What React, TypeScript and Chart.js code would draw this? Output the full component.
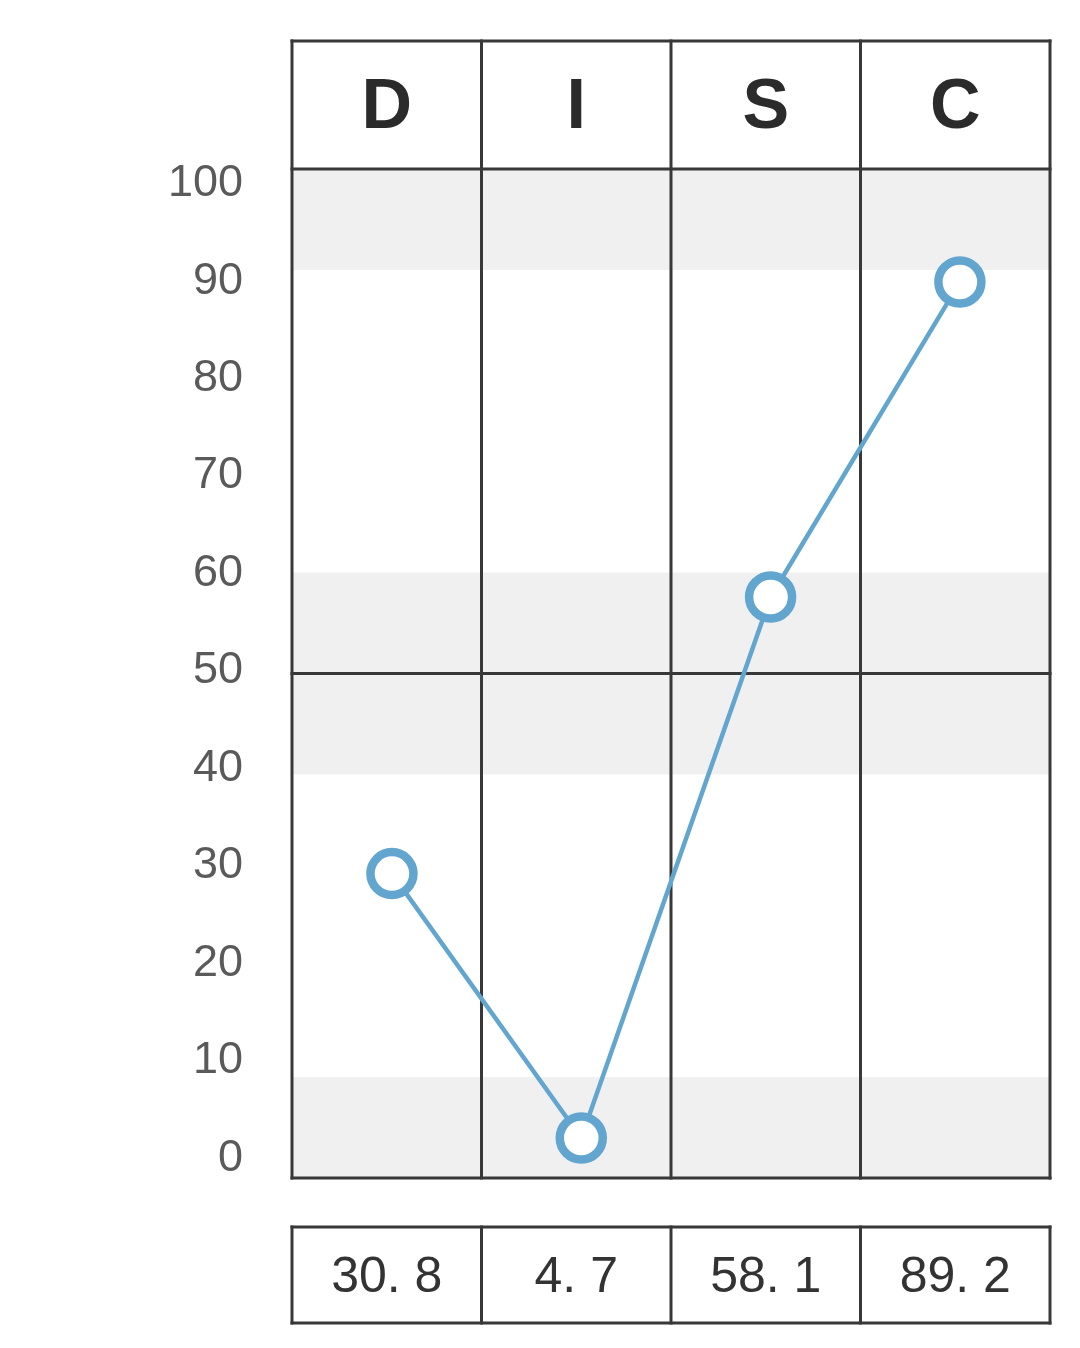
import React, { useEffect, useRef } from 'react';
import { Chart, registerables } from 'chart.js';

Chart.register(...registerables);

// ---- data ----
const categories = ['D', 'I', 'S', 'C'];
const scores = [30.8, 4.7, 58.1, 89.2];
const yTickValues = [0, 10, 20, 30, 40, 50, 60, 70, 80, 90, 100];
const shadedBands = [
  [0, 10],
  [40, 60],
  [90, 100],
];
const midlineValue = 50;

const LINE_COLOR = '#383838';
const SERIES_COLOR = '#62a5cf';
const FONT = "'Liberation Sans', Arial, Helvetica, sans-serif";

function formatScore(v: number): string {
  return v.toFixed(1).replace('.', '. ');
}

const tablePlugin = {
  id: 'discTable',
  beforeDatasetsDraw(chart: any) {
    const { ctx, chartArea } = chart;
    const { left, right, top, bottom } = chartArea;
    const xs = chart.scales.x;
    const h = bottom - top;
    const yAt = (p: number) => bottom - (h * p) / 100;

    ctx.save();
    ctx.fillStyle = '#f0f0f0';
    shadedBands.forEach(([a, b]) => {
      ctx.fillRect(left, yAt(b), right - left, yAt(a) - yAt(b));
    });

    const bounds: number[] = [left];
    for (let i = 0; i < categories.length - 1; i++) {
      bounds.push((xs.getPixelForValue(i) + xs.getPixelForValue(i + 1)) / 2);
    }
    bounds.push(right);

    const headerTop = top - 128;
    const tableTop = bottom + 49;
    const tableBottom = bottom + 145;

    ctx.strokeStyle = LINE_COLOR;
    ctx.lineWidth = 3;
    ctx.lineJoin = 'round';
    ctx.lineCap = 'square';

    const hLine = (y: number) => {
      ctx.beginPath();
      ctx.moveTo(left, y);
      ctx.lineTo(right, y);
      ctx.stroke();
    };
    const vLine = (x: number, y1: number, y2: number) => {
      ctx.beginPath();
      ctx.moveTo(x, y1);
      ctx.lineTo(x, y2);
      ctx.stroke();
    };

    hLine(headerTop);
    hLine(top);
    hLine(yAt(midlineValue));
    hLine(bottom);
    hLine(tableTop);
    hLine(tableBottom);
    bounds.forEach((x) => {
      vLine(x, headerTop, bottom);
      vLine(x, tableTop, tableBottom);
    });
    ctx.restore();
  },
};

export default function App() {
  const canvasRef = useRef<HTMLCanvasElement | null>(null);

  useEffect(() => {
    document.body.style.margin = '0';
    const canvas = canvasRef.current;
    if (!canvas) return;

    const chart = new Chart(canvas, {
      type: 'line',
      data: {
        labels: categories,
        datasets: [
          {
            data: scores.map((v, i) => ({ x: i, y: v })),
            xAxisID: 'xd',
            yAxisID: 'y',
            borderColor: SERIES_COLOR,
            borderWidth: 4.5,
            pointRadius: 21.5,
            pointHoverRadius: 21.5,
            pointBorderWidth: 8.5,
            pointBackgroundColor: '#ffffff',
            pointBorderColor: SERIES_COLOR,
            tension: 0,
            clip: false as any,
          },
        ],
      },
      plugins: [tablePlugin],
      options: {
        animation: false,
        responsive: false,
        devicePixelRatio: 1,
        events: [],
        layout: { padding: { left: 0, right: 30, top: 0, bottom: 0 } },
        plugins: {
          legend: { display: false },
          tooltip: { enabled: false },
          title: { display: false },
        },
        scales: {
          x: {
            type: 'category',
            position: 'top',
            offset: true,
            grid: { display: false, drawTicks: false },
            border: { display: false },
            ticks: {
              autoSkip: false,
              maxRotation: 0,
              minRotation: 0,
              padding: 18,
              color: '#2b2b2b',
              font: { family: FONT, size: 70, weight: 'bold' },
            },
            afterFit: (scale: any) => {
              scale.height = 169;
              scale.paddingLeft = 0;
              scale.paddingRight = 0;
            },
          },
          xb: {
            type: 'category',
            position: 'bottom',
            offset: true,
            grid: { display: false, drawTicks: false },
            border: { display: false },
            ticks: {
              autoSkip: false,
              maxRotation: 0,
              minRotation: 0,
              padding: 70,
              color: '#333333',
              font: { family: FONT, size: 50 },
              callback: (_v: any, i: number) => formatScore(scores[i]),
            },
            afterFit: (scale: any) => {
              scale.height = 170;
              scale.paddingLeft = 0;
              scale.paddingRight = 0;
            },
          },
          xd: {
            type: 'linear',
            display: false,
            min: -0.528,
            max: 3.476,
          },
          y: {
            type: 'linear',
            display: false,
            min: 0.75,
            max: 100.36,
          },
          yl: {
            type: 'linear',
            position: 'left',
            min: -2.0,
            max: 101.5,
            grid: { display: false, drawTicks: false },
            border: { display: false },
            afterBuildTicks: (axis: any) => {
              axis.ticks = yTickValues.map((v) => ({ value: v }));
            },
            ticks: {
              padding: 49,
              color: '#5a5a5a',
              font: { family: FONT, size: 45 },
              callback: (v: any) => String(v),
            },
            afterFit: (scale: any) => {
              scale.width = 292;
              scale.paddingTop = 0;
              scale.paddingBottom = 0;
            },
          },
        },
      } as any,
    });

    return () => chart.destroy();
  }, []);

  return (
    <div style={{ width: 1080, height: 1348, background: '#ffffff' }}>
      <canvas ref={canvasRef} width={1080} height={1348} style={{ display: 'block' }} />
    </div>
  );
}
